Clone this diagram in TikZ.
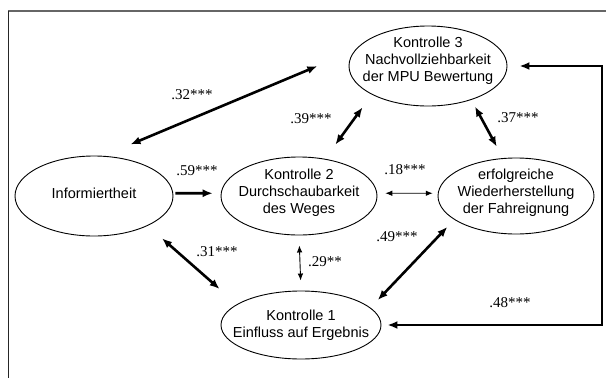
\documentclass[tikz,border=0pt]{standalone}
\usepackage{fontspec}
\setmainfont{Liberation Sans}
\newfontfamily\numfont{Liberation Serif}
\usetikzlibrary{shapes.geometric,arrows.meta}

\tikzset{
  oval/.style={ellipse, draw, line width=0.9pt, inner xsep=-14pt, inner ysep=-10pt,
    align=center, font=\fontsize{14.5}{17}\selectfont},
  lbl/.style={font=\numfont\fontsize{15}{15}\selectfont},
  fat/.style={line width=2.6pt, >={Latex[length=10pt,width=8pt]}},
  slim/.style={line width=0.9pt, >={Latex[length=7pt,width=5.5pt]}},
}

\begin{document}
\begin{tikzpicture}[x=1pt,y=-1pt]
 \useasboundingbox (0,0) rectangle (606,378);
 % frame
 \draw[line width=1.8pt, black!60] (8,11) -- (606,11);
 \draw[line width=1.4pt, black!85] (8.5,11) -- (8.5,378);

 % constructs
 \node[oval, minimum width=158pt, minimum height=80pt, text depth=13pt] (k3) at (428,66) {Kontrolle 3\\Nachvollziehbarkeit\\der MPU Bewertung};
 \node[oval, minimum width=158pt, minimum height=80pt, text depth=6pt] (inf) at (94,196) {Informiertheit};
 \node[oval, minimum width=156pt, minimum height=78pt, text depth=9pt] (k2) at (299,196) {Kontrolle 2\\Durchschaubarkeit\\des Weges};
 \node[oval, minimum width=156pt, minimum height=76pt, text depth=9pt] (wdh) at (516,196) {erfolgreiche\\Wiederherstellung\\der Fahreignung};
 \node[oval, minimum width=160pt, minimum height=68pt] (k1) at (301,325) {Kontrolle 1\\Einfluss auf Ergebnis};

 % paths
 \draw[fat,<->,shorten <=29.5pt,shorten >=40.5pt] (inf.77.5) -- (k3.168.8);
 \draw[fat,<->,shorten <=15.7pt,shorten >=17.5pt] (k3.207) -- (k2.55.2);
 \draw[fat,<->,shorten <=7.5pt,shorten >=13pt] (k3.322.5) -- (wdh.109);
 \draw[fat,->,shorten <=2pt,shorten >=8pt] (inf.2) -- (k2.178);
 \draw[slim,<->,shorten <=8pt,shorten >=5pt] (k2.2) -- (wdh.178);
 \draw[slim,<->,shorten <=10pt,shorten >=10pt] (k2.south) -- (k1.north);
 \draw[fat,<->,shorten <=19pt,shorten >=23pt] (inf.331.3) -- (k1.162);
 \draw[fat,<->,shorten <=10.5pt,shorten >=10pt] (k1.14.3) -- (wdh.201.3);
 \coordinate (rt) at (602,325);
 \draw[fat,<->,shorten <=6pt,shorten >=12pt] (k1.east) -- (rt) |- (k3.east);

 % coefficients
 \node[lbl] (l32) at (192,95) {.32***};
 \node[lbl] (l39) at (311,119) {.39***};
 \node[lbl] (l37) at (518,118) {.37***};
 \node[lbl] (l59) at (197,171) {.59***};
 \node[lbl] (l18) at (405,170) {.18***};
 \node[lbl] (l31) at (217,252) {.31***};
 \node[lbl] (l29) at (325,262) {.29**};
 \node[lbl] (l49) at (397,237) {.49***};
 \node[lbl] (l48) at (510,303) {.48***};
\end{tikzpicture}
\end{document}
